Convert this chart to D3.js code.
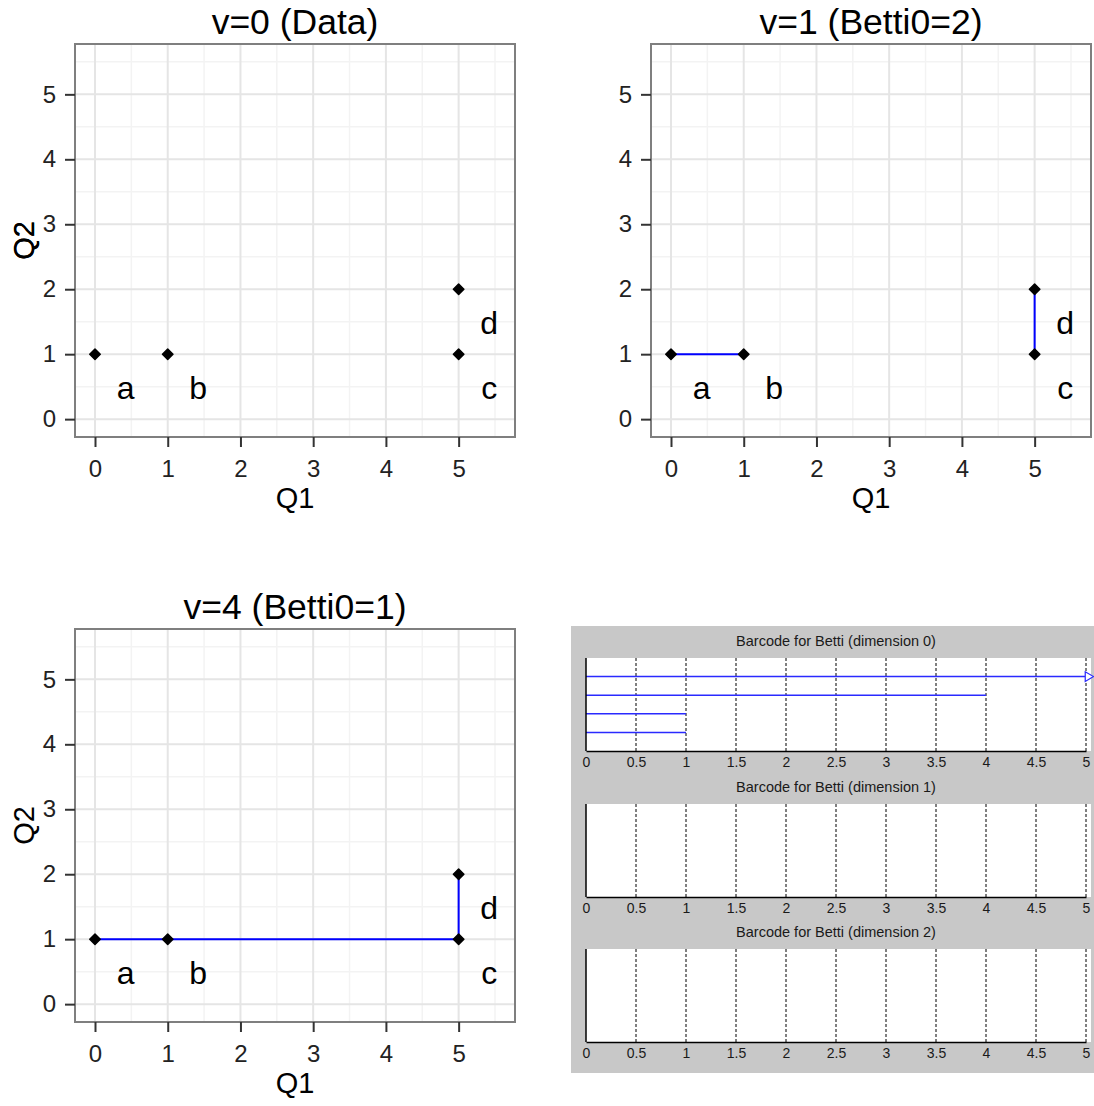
<!DOCTYPE html>
<html>
<head>
<meta charset="utf-8">
<script src="https://cdn.jsdelivr.net/npm/d3@7"></script>
<style>
  body { margin: 0; background: #fff; }
  svg { display: block; font-family: "Liberation Sans", Arial, sans-serif; }
</style>
</head>
<body>
<svg id="chart" width="1094" height="1106"></svg>
<script>
// point data
const pointNames = ['a', 'b', 'c', 'd'];
const q1 = [0, 1, 5, 5];
const q2 = [1, 1, 1, 2];

// one entry per scatter panel
const panelTitles = ['v=0 (Data)', 'v=1 (Betti0=2)', 'v=4 (Betti0=1)'];
const panelEdges = [
  [],
  [[0, 1], [2, 3]],
  [[0, 1], [1, 2], [2, 3]]
];
const axisTicks = [0, 1, 2, 3, 4, 5];
const minorTicks = [0.5, 1.5, 2.5, 3.5, 4.5, 5.5];

// barcode data (dimension 0 has four bars, 1 and 2 are empty)
const barDims = [0, 1, 2];
const barStart = [[0, 0, 0, 0], [], []];
const barEnd = [[Infinity, 4, 1, 1], [], []];
const barTicks = [0, 0.5, 1, 1.5, 2, 2.5, 3, 3.5, 4, 4.5, 5];

const svg = d3.select('#chart');

const panelPos = [
  { left: 75, top: 44 },
  { left: 651, top: 44 },
  { left: 75, top: 629 }
];
const pw = 440, ph = 393;

panelTitles.forEach((title, p) => {
  const { left, top } = panelPos[p];
  const g = svg.append('g').attr('transform', `translate(${left},${top})`);

  const x = d3.scaleLinear().domain([-0.275, 5.775]).range([0, pw]);
  const y = d3.scaleLinear().domain([-0.275, 5.775]).range([ph, 0]);

  // minor grid
  g.append('g').selectAll('line.mx').data(minorTicks).enter().append('line')
    .attr('x1', d => x(d)).attr('x2', d => x(d)).attr('y1', 0).attr('y2', ph)
    .attr('stroke', '#f3f3f3').attr('stroke-width', 1.5);
  g.append('g').selectAll('line.my').data(minorTicks).enter().append('line')
    .attr('y1', d => y(d)).attr('y2', d => y(d)).attr('x1', 0).attr('x2', pw)
    .attr('stroke', '#f3f3f3').attr('stroke-width', 1.5);
  // major grid
  g.append('g').selectAll('line').data(axisTicks).enter().append('line')
    .attr('x1', d => x(d)).attr('x2', d => x(d)).attr('y1', 0).attr('y2', ph)
    .attr('stroke', '#e5e5e5').attr('stroke-width', 2);
  g.append('g').selectAll('line').data(axisTicks).enter().append('line')
    .attr('y1', d => y(d)).attr('y2', d => y(d)).attr('x1', 0).attr('x2', pw)
    .attr('stroke', '#e5e5e5').attr('stroke-width', 2);

  // edges
  g.append('g').selectAll('line').data(panelEdges[p]).enter().append('line')
    .attr('x1', d => x(q1[d[0]])).attr('y1', d => y(q2[d[0]]))
    .attr('x2', d => x(q1[d[1]])).attr('y2', d => y(q2[d[1]]))
    .attr('stroke', '#0000ff').attr('stroke-width', 2);

  // points
  g.append('g').selectAll('path').data(pointNames).enter().append('path')
    .attr('d', d3.symbol(d3.symbolSquare, 55))
    .attr('transform', (d, i) => `translate(${x(q1[i])},${y(q2[i])}) rotate(45)`)
    .attr('fill', '#000').attr('stroke', '#000').attr('stroke-width', 1.5)
    .attr('stroke-linejoin', 'round');

  // point labels
  g.append('g').selectAll('text').data(pointNames).enter().append('text')
    .attr('x', (d, i) => x(q1[i] + 0.42))
    .attr('y', (d, i) => y(q2[i] - 0.5))
    .attr('dy', '0.38em')
    .attr('text-anchor', 'middle')
    .attr('font-size', '32px')
    .attr('fill', '#000')
    .text(d => d);

  // border
  g.append('rect').attr('width', pw).attr('height', ph)
    .attr('fill', 'none').attr('stroke', '#7f7f7f').attr('stroke-width', 2);

  // axes
  const xAxis = g.append('g').attr('transform', `translate(0,${ph})`)
    .call(d3.axisBottom(x).tickValues(axisTicks).tickSize(10).tickPadding(13)
      .tickFormat(d3.format('d')));
  const yAxis = g.append('g')
    .call(d3.axisLeft(y).tickValues(axisTicks).tickSize(10).tickPadding(9)
      .tickFormat(d3.format('d')));
  [xAxis, yAxis].forEach(a => {
    a.select('.domain').remove();
    a.selectAll('line').attr('stroke', '#333').attr('stroke-width', 2);
    a.selectAll('text').attr('font-size', '24px').attr('fill', '#222')
      .attr('font-family', '"Liberation Sans", Arial, sans-serif');
  });

  // titles
  g.append('text')
    .attr('x', pw / 2).attr('y', -10)
    .attr('text-anchor', 'middle')
    .attr('font-size', '35.5px')
    .attr('fill', '#000')
    .text(title);

  g.append('text')
    .attr('x', pw / 2).attr('y', ph + 71)
    .attr('text-anchor', 'middle')
    .attr('font-size', '29px')
    .attr('fill', '#000')
    .text('Q1');

  g.append('text')
    .attr('transform', `translate(${34 - left},${ph / 2}) rotate(-90)`)
    .attr('text-anchor', 'middle')
    .attr('font-size', '29px')
    .attr('fill', '#000')
    .text('Q2');
});

// barcode figure
const bc = svg.append('g');
bc.append('rect').attr('x', 571).attr('y', 626).attr('width', 523).attr('height', 447)
  .attr('fill', '#c8c8c8');

const bx = d3.scaleLinear().domain([0, 5]).range([586, 1086]);
const bTops = [658, 804, 949];
const bh = 93;

barDims.forEach((dim, k) => {
  const top = bTops[k];
  const by = d3.scaleLinear().domain([0, 5]).range([top, top + bh]);
  const g = bc.append('g');

  g.append('rect').attr('x', bx(0)).attr('y', top)
    .attr('width', bx(5) - bx(0) + 5).attr('height', bh).attr('fill', '#fff');

  // dashed grid
  g.append('g').selectAll('line').data(barTicks.filter(t => t > 0)).enter().append('line')
    .attr('x1', d => bx(d)).attr('x2', d => bx(d)).attr('y1', top).attr('y2', top + bh)
    .attr('stroke', '#000').attr('stroke-width', 1).attr('stroke-dasharray', '3,2');

  // bars
  const bars = barStart[k].map((s, i) => ({ s: s, e: barEnd[k][i], i: i + 1 }));
  g.append('g').selectAll('line').data(bars).enter().append('line')
    .attr('x1', d => bx(d.s)).attr('x2', d => bx(Math.min(d.e, 5)))
    .attr('y1', d => by(d.i)).attr('y2', d => by(d.i))
    .attr('stroke', '#2a2aff').attr('stroke-width', 1.5);
  g.append('g').selectAll('path').data(bars.filter(d => d.e === Infinity)).enter().append('path')
    .attr('d', d3.symbol(d3.symbolTriangle, 40))
    .attr('transform', d => `translate(${bx(5) + 2},${by(d.i)}) rotate(90)`)
    .attr('fill', '#fff').attr('stroke', '#2a2aff').attr('stroke-width', 1.2);

  // axis lines
  g.append('line').attr('x1', bx(0)).attr('x2', bx(0)).attr('y1', top).attr('y2', top + bh)
    .attr('stroke', '#000').attr('stroke-width', 1.5);
  const ax = g.append('g').attr('transform', `translate(0,${top + bh})`)
    .call(d3.axisBottom(bx).tickValues(barTicks).tickSize(0).tickPadding(6)
      .tickFormat(d3.format('')));
  ax.select('.domain').attr('stroke', '#000').attr('stroke-width', 1.5);
  ax.selectAll('text').attr('font-size', '14px').attr('fill', '#1a1a1a')
    .attr('font-family', '"Liberation Sans", Arial, sans-serif');

  g.append('text')
    .attr('x', (bx(0) + bx(5)) / 2).attr('y', top - 12)
    .attr('text-anchor', 'middle')
    .attr('font-size', '14.5px')
    .attr('fill', '#1a1a1a')
    .text(`Barcode for Betti (dimension ${dim})`);
});
</script>
</body>
</html>
